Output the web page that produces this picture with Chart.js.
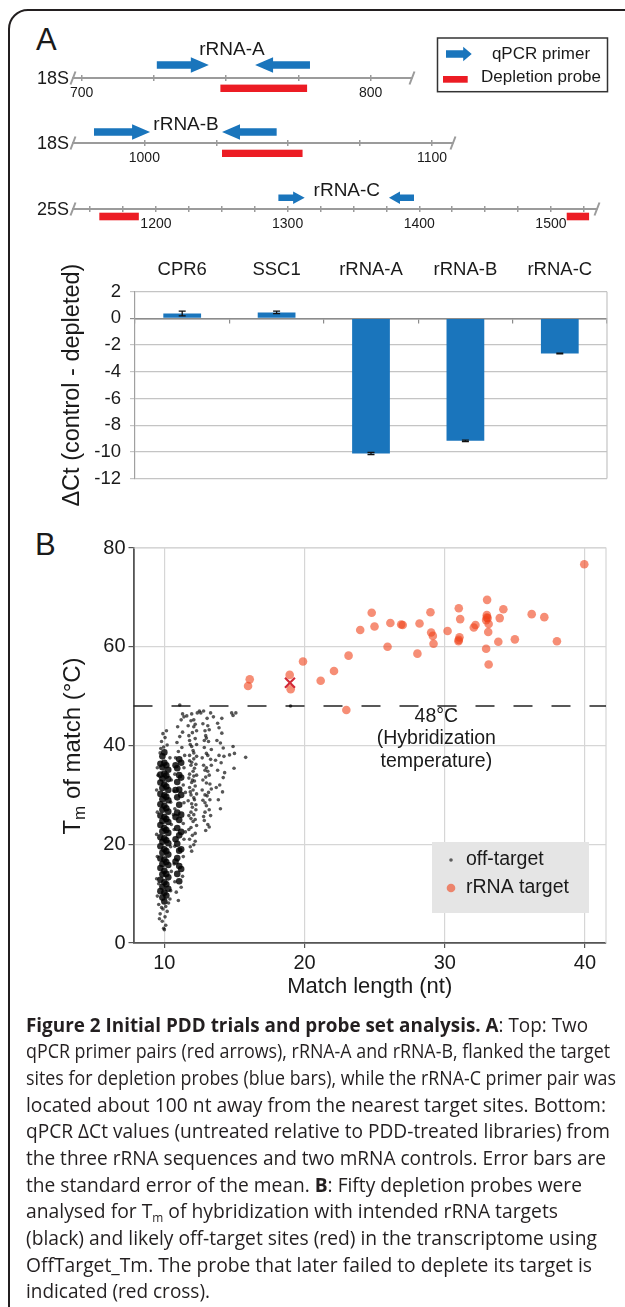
<!DOCTYPE html>
<html>
<head>
<meta charset="utf-8">
<title>Figure 2</title>
<script src="https://cdn.jsdelivr.net/npm/chart.js@4.4.1/dist/chart.umd.min.js"></script>
<style>
  html, body { margin: 0; padding: 0; background: #fff; }
  body { width: 625px; height: 1307px; position: relative; overflow: hidden; font-family: 'Liberation Sans', Arial, sans-serif; color: #1a1a1a; }
  #frame { position: absolute; left: 8px; top: 9px; width: 720px; height: 1400px; border: 2px solid #231f20; border-radius: 20px; }
  canvas { position: absolute; left: 0; }
  .panel { position: absolute; font-size: 31px; line-height: 1; }
  .cap { position: absolute; left: 25.5px; white-space: nowrap; font-family: 'Open Sans', sans-serif; font-size: 19.5px; line-height: 1; color: #231f20; transform-origin: 0 50%; }
  .cap sub { font-size: 12px; vertical-align: baseline; position: relative; top: 4px; }
</style>
</head>
<body>
<div id="frame"></div>
<div class="panel" style="left:36px;top:24px">A</div>
<div class="panel" style="left:35px;top:529px">B</div>
<canvas id="row0" width="625" height="90" style="top:18px"></canvas>
<canvas id="row1" width="625" height="90" style="top:83px"></canvas>
<canvas id="row2" width="625" height="90" style="top:149px"></canvas>
<canvas id="bars" width="625" height="270" style="top:250px"></canvas>
<canvas id="scatter" width="625" height="485" style="top:520px"></canvas>

<div class="cap" style="top:1014.5px"><b>Figure 2 Initial PDD trials and probe set analysis. A</b>: Top: Two</div>
<div class="cap" style="top:1041.2px">qPCR primer pairs (red arrows), rRNA-A and rRNA-B, flanked the target</div>
<div class="cap" style="top:1067.8px">sites for depletion probes (blue bars), while the rRNA-C primer pair was</div>
<div class="cap" style="top:1094.5px">located about 100 nt away from the nearest target sites. Bottom:</div>
<div class="cap" style="top:1121.2px">qPCR ΔCt values (untreated relative to PDD-treated libraries) from</div>
<div class="cap" style="top:1147.8px">the three rRNA sequences and two mRNA controls. Error bars are</div>
<div class="cap" style="top:1174.5px">the standard error of the mean. <b>B</b>: Fifty depletion probes were</div>
<div class="cap" style="top:1201.2px">analysed for T<sub>m</sub> of hybridization with intended rRNA targets</div>
<div class="cap" style="top:1227.8px">(black) and likely off-target sites (red) in the transcriptome using</div>
<div class="cap" style="top:1254.5px">OffTarget_Tm. The probe that later failed to deplete its target is</div>
<div class="cap" style="top:1281.2px">indicated (red cross).</div>

<script>
// ---- panel A, top: primer / probe map on the rRNA sequences
const seqNames = ['18S', '18S', '25S'];
const ampliconNames = ['rRNA-A', 'rRNA-B', 'rRNA-C'];
const seqStart = [697, 975.2, 1137];
const seqEnd = [814.3, 1107.3, 1535];
const fwdPrimers = [[726, 744], [982.5, 1002], [1293, 1313]];
const revPrimers = [[760, 779], [1027, 1046], [1377, 1396]];
const probeSites = [[[748, 778]], [[1027, 1055]], [[1157, 1187], [1512, 1529]]];

// ---- panel A, bottom: qPCR delta Ct
const genes = ['CPR6', 'SSC1', 'rRNA-A', 'rRNA-B', 'rRNA-C'];
const deltaCt = [0.37, 0.45, -10.12, -9.18, -2.63];
const deltaCtErr = [0.18, 0.09, 0.08, 0.05, 0.03];

// ---- panel B: rRNA target matches (length nt, Tm C)
const rrnaLen = [15.97, 16.09, 18.94, 19.01, 19.89, 21.15, 22.1, 22.98, 23.14, 23.97,
  24.79, 24.99, 25.92, 26.12, 26.89, 27.0, 28.2, 28.05, 28.98, 29.03,
  29.15, 29.2, 30.2, 31.0, 31.05, 30.98, 31.1, 32.07, 32.19, 33.02,
  33.0, 33.06, 32.95, 33.13, 33.1, 32.95, 33.13, 33.92, 33.82, 34.18,
  35.0, 36.2, 37.1, 38.0, 39.95, 33.0, 31.0];
const rrnaTm = [52.05, 53.4, 54.3, 51.4, 57.0, 53.1, 55.1, 47.2, 58.2, 63.4,
  66.9, 64.1, 60.0, 64.8, 64.5, 64.4, 64.7, 58.6, 67.0, 62.9,
  62.2, 60.6, 63.2, 67.8, 61.9, 61.1, 65.6, 63.9, 64.4, 69.5,
  66.4, 65.8, 65.4, 64.6, 63.0, 59.6, 56.4, 65.8, 61.0, 67.6,
  61.5, 66.6, 66.0, 61.1, 76.7, 65.9, 61.4];
const failedProbe = [18.96, 52.7];

// off-target matches: dense cores of the 10 and 11 nt columns
const coreLen = [9.72, 9.86, 10.0, 10.14, 10.28, 10.8, 10.92, 11.06, 11.2];
const coreTm = [
  [10.5, 12.8, 15.2, 17.1, 19.6, 21.4, 23.9, 25.8, 28.1, 30.2, 32.5, 34.1, 36.3],
  [9.2, 11.4, 13.9, 16.0, 18.3, 20.5, 22.6, 24.7, 27.0, 29.1, 31.4, 33.3, 35.6, 37.8],
  [8.4, 10.2, 12.3, 14.6, 16.9, 19.0, 21.2, 23.3, 25.5, 27.8, 29.9, 32.1, 34.3, 36.5, 38.6],
  [9.6, 11.9, 14.0, 16.4, 18.6, 20.8, 22.9, 25.1, 27.3, 29.6, 31.7, 33.9, 36.0],
  [11.0, 13.3, 15.8, 17.9, 20.2, 22.3, 24.5, 26.6, 28.9, 31.0, 33.2, 35.1],
  [16.5, 21.0, 25.5, 31.0, 36.0],
  [14.0, 17.2, 20.1, 23.3, 26.4, 29.5, 32.6, 35.4],
  [12.5, 15.6, 18.7, 21.8, 24.9, 28.0, 31.1, 34.0, 37.2],
  [15.0, 19.0, 22.5, 26.0, 30.0, 33.5, 36.5]
];
// off-target matches: scattered points
const spreadOffTarget = [
  [9.95, 3.0], [10.1, 3.6], [9.85, 4.4], [10.05, 5.3], [9.7, 5.9], [10.2, 6.4], [9.9, 6.9], [10.1, 7.4], [9.6, 7.8], [10.3, 8.1],
  [9.5, 9.5], [10.45, 10.6], [9.45, 13.0], [10.5, 14.5], [9.5, 17.5], [10.45, 19.5], [9.45, 22.0], [10.5, 24.0], [9.5, 26.5], [10.45, 28.5],
  [9.45, 31.0], [10.5, 33.0], [9.5, 35.5], [10.4, 37.5], [9.7, 38.5], [9.95, 39.7], [10.2, 40.1], [9.8, 40.8], [10.05, 41.6], [9.9, 42.4],
  [10.15, 43.0], [9.75, 39.4], [9.55, 34.0], [9.6, 12.0], [10.4, 8.9], [9.8, 7.2], [9.65, 4.9], [10.0, 2.7],
  [11.0, 8.6], [10.85, 10.3], [11.2, 11.3], [10.75, 12.4], [11.3, 13.5], [10.7, 16.0], [11.35, 17.5], [10.75, 19.6], [11.4, 21.0], [10.7, 23.0],
  [11.35, 24.2], [10.75, 27.2], [11.4, 28.4], [10.7, 30.8], [11.35, 32.0], [10.75, 34.2], [11.4, 35.5], [10.8, 37.5], [11.0, 38.8], [11.25, 39.6],
  [10.9, 40.6], [11.1, 41.8], [11.3, 42.7], [10.95, 43.8], [11.2, 45.2], [11.4, 45.8], [11.1, 48.2], [10.65, 26.0], [11.45, 38.0], [11.5, 30.5], [11.5, 22.5],
  [11.95, 18.6], [12.1, 19.9], [11.8, 21.0], [12.2, 22.2], [11.9, 23.4], [12.05, 24.6], [11.75, 25.8], [12.25, 27.0], [11.95, 28.2], [12.1, 29.4],
  [11.85, 30.6], [12.2, 31.8], [12.0, 33.0], [11.8, 34.2], [12.15, 35.4], [11.95, 36.6], [12.3, 37.8], [12.05, 39.0], [11.85, 40.2], [12.2, 41.4],
  [12.0, 42.6], [11.7, 44.0], [12.1, 45.2], [11.95, 46.4], [12.35, 46.6], [12.0, 21.8], [11.9, 26.5], [12.15, 29.0], [11.95, 32.5], [12.3, 34.0],
  [11.8, 38.0], [12.1, 38.5], [12.0, 27.5], [12.2, 25.0], [11.9, 36.0], [12.3, 43.0], [11.75, 42.0], [12.05, 31.0], [11.9, 30.0], [12.1, 33.8],
  [11.85, 19.5], [12.2, 20.6], [11.75, 23.0], [12.3, 23.8], [11.9, 25.2], [12.1, 26.0], [11.7, 28.8], [12.25, 28.0], [11.8, 31.5], [12.3, 30.2],
  [12.15, 32.8], [11.75, 33.4], [12.05, 34.8], [12.25, 36.2], [11.8, 36.9], [12.1, 37.3], [11.95, 39.8], [12.3, 40.2], [11.8, 41.0], [12.1, 43.8],
  [11.9, 45.0], [12.2, 44.3],
  [12.95, 22.8], [13.1, 24.0], [12.8, 25.6], [13.2, 27.0], [12.9, 28.4], [13.05, 29.8], [12.7, 31.0], [13.25, 32.2], [12.95, 33.6], [13.1, 34.8],
  [12.8, 36.0], [13.3, 37.2], [13.0, 38.4], [12.85, 39.6], [13.15, 40.8], [12.95, 42.0], [13.2, 43.2], [12.75, 44.4], [13.05, 45.5], [12.6, 46.6],
  [13.3, 46.6], [12.9, 26.5], [13.15, 30.5], [13.0, 35.5], [12.85, 41.0],
  [13.2, 23.5], [12.85, 24.8], [13.3, 25.8], [13.0, 27.8], [12.75, 28.9], [13.25, 29.0], [12.9, 30.0], [13.35, 31.2], [13.0, 32.4], [12.75, 33.0],
  [13.2, 34.0], [12.9, 35.0], [13.35, 36.0], [12.7, 37.5], [13.1, 38.0], [13.35, 39.2], [12.9, 43.0], [13.1, 44.0], [12.8, 47.0], [13.0, 41.5],
  [14.0, 27.2], [13.85, 29.0], [14.15, 30.6], [13.95, 32.0], [14.2, 33.5], [13.8, 35.0], [14.05, 36.5], [13.9, 38.0], [14.2, 39.5], [13.75, 41.0],
  [14.1, 42.5], [13.9, 43.6], [13.7, 31.5], [14.3, 34.5], [13.65, 37.0], [14.25, 37.8], [14.0, 40.5], [13.8, 44.5], [14.1, 45.5],
  [14.8, 46.6], [15.1, 46.6], [14.9, 39.8], [14.65, 38.1], [15.0, 38.4], [15.8, 37.6], [14.97, 35.4], [13.5, 45.8], [12.5, 47.0], [11.6, 46.0],
  [11.3, 46.4], [19.0, 48.0], [14.9, 46.1]
];
const hybridTemp = 48;

const BLUE = '#1a75bc';
const RED = '#ec1c24';
const TXT = '#1a1a1a';
Chart.defaults.font.family = "'Liberation Sans', Arial, sans-serif";
Chart.defaults.color = TXT;

// vertical placement of each schematic row, relative to its sequence line
const rowStyle = [
  { right: 412, labelDy: -28, arrowDy: -13, probe: [6.6, 14], hh: 7.8, sh: 3.7, legend: true },
  { right: 453, labelDy: -18.5, arrowDy: -11, probe: [6.7, 14], hh: 7.8, sh: 3.7 },
  { right: 597, labelDy: -18, arrowDy: -11.3, probe: [3.7, 11.3], hh: 6.3, sh: 3.3 }
];

function drawArrow(ctx, x0, x1, y, dir, hh, sh, headMax) {
  const head = Math.min(headMax, (x1 - x0) * 0.44);
  ctx.beginPath();
  if (dir > 0) {
    ctx.moveTo(x0, y - sh); ctx.lineTo(x1 - head, y - sh); ctx.lineTo(x1 - head, y - hh);
    ctx.lineTo(x1, y); ctx.lineTo(x1 - head, y + hh); ctx.lineTo(x1 - head, y + sh); ctx.lineTo(x0, y + sh);
  } else {
    ctx.moveTo(x1, y - sh); ctx.lineTo(x0 + head, y - sh); ctx.lineTo(x0 + head, y - hh);
    ctx.lineTo(x0, y); ctx.lineTo(x0 + head, y + hh); ctx.lineTo(x0 + head, y + sh); ctx.lineTo(x1, y + sh);
  }
  ctx.closePath();
  ctx.fill();
}

const schematic = {
  id: 'schematic',
  afterDraw(chart, args, opts) {
    const i = opts.row, st = rowStyle[i];
    const ctx = chart.ctx, x = chart.scales.x;
    const y0 = chart.chartArea.bottom;
    ctx.save();
    // break marks at both ends of the sequence
    ctx.strokeStyle = '#9b9b9b'; ctx.lineWidth = 2;
    [x.left, x.right].forEach(px => {
      ctx.beginPath(); ctx.moveTo(px - 2.5, y0 + 6.5); ctx.lineTo(px + 2.5, y0 - 6.5); ctx.stroke();
    });
    ctx.fillStyle = TXT;
    ctx.font = "18px 'Liberation Sans'";
    ctx.textAlign = 'right'; ctx.textBaseline = 'middle';
    ctx.fillText(seqNames[i], x.left - 4, y0 + 1);
    // depletion probes
    ctx.fillStyle = RED;
    probeSites[i].forEach(p => {
      const a = x.getPixelForValue(p[0]), b = x.getPixelForValue(p[1]);
      ctx.fillRect(a, y0 + st.probe[0], b - a, st.probe[1] - st.probe[0]);
    });
    // primers
    ctx.fillStyle = BLUE;
    drawArrow(ctx, x.getPixelForValue(fwdPrimers[i][0]), x.getPixelForValue(fwdPrimers[i][1]), y0 + st.arrowDy, 1, st.hh, st.sh, 18);
    drawArrow(ctx, x.getPixelForValue(revPrimers[i][0]), x.getPixelForValue(revPrimers[i][1]), y0 + st.arrowDy, -1, st.hh, st.sh, 18);
    // amplicon name between the primers
    const mid = (fwdPrimers[i][1] + revPrimers[i][0]) / 2;
    ctx.fillStyle = TXT;
    ctx.font = "19px 'Liberation Sans'";
    ctx.textAlign = 'center';
    ctx.fillText(ampliconNames[i], x.getPixelForValue(mid), y0 + st.labelDy);
    if (st.legend) {
      const top = 20;
      ctx.strokeStyle = '#333'; ctx.lineWidth = 1.5;
      ctx.strokeRect(437.5, top, 170, 53.7);
      ctx.fillStyle = BLUE;
      drawArrow(ctx, 446, 471.7, top + 16, 1, 7.2, 3.8, 8.5);
      ctx.fillStyle = RED;
      ctx.fillRect(443, top + 38, 24.7, 6.7);
      ctx.fillStyle = TXT;
      ctx.font = "17px 'Liberation Sans'";
      ctx.textAlign = 'center';
      ctx.fillText('qPCR primer', 541, top + 16);
      ctx.fillText('Depletion probe', 541, top + 39);
    }
    ctx.restore();
  }
};

rowStyle.forEach((st, i) => {
  new Chart(document.getElementById('row' + i), {
    type: 'scatter',
    data: { datasets: [] },
    options: {
      responsive: false, animation: false, events: [],
      layout: { padding: { left: 73, right: 625 - st.right, top: 57, bottom: 0 } },
      plugins: { legend: { display: false }, tooltip: { enabled: false }, schematic: { row: i } },
      scales: {
        x: {
          type: 'linear', min: seqStart[i], max: seqEnd[i],
          afterBuildTicks: s => { s.ticks = s.ticks.filter(t => t.value % 25 === 0); },
          ticks: { stepSize: 25, includeBounds: false, autoSkip: false, maxRotation: 0, padding: 4, color: TXT, font: { size: 14 },
                   callback: v => (v % 100 === 0 ? String(v) : '') },
          grid: { color: '#9b9b9b', lineWidth: 1.5, tickLength: 3 },
          border: { color: '#9b9b9b', width: 2 },
          afterFit: s => { s.height = 30; }
        },
        y: { display: false, min: 0, max: 1 }
      }
    },
    plugins: [schematic]
  });
});

// ---- qPCR bar chart
const errorBars = {
  id: 'errorBars',
  afterDatasetsDraw(chart) {
    const ctx = chart.ctx, xs = chart.scales.x, ys = chart.scales.y, a = chart.chartArea;
    ctx.save();
    ctx.strokeStyle = '#c4c4c4'; ctx.lineWidth = 1.2;
    ctx.beginPath(); ctx.moveTo(a.right, a.top); ctx.lineTo(a.right, a.bottom); ctx.stroke();
    ctx.strokeStyle = '#111'; ctx.lineWidth = 1.3;
    deltaCt.forEach((v, i) => {
      const px = xs.getPixelForValue(i);
      const t = ys.getPixelForValue(v + deltaCtErr[i]), b = ys.getPixelForValue(v - deltaCtErr[i]);
      ctx.beginPath();
      ctx.moveTo(px, t); ctx.lineTo(px, b);
      ctx.moveTo(px - 3.5, t); ctx.lineTo(px + 3.5, t);
      ctx.moveTo(px - 3.5, b); ctx.lineTo(px + 3.5, b);
      ctx.stroke();
    });
    ctx.restore();
  }
};

new Chart(document.getElementById('bars'), {
  type: 'bar',
  data: {
    labels: genes,
    datasets: [{ data: deltaCt, backgroundColor: BLUE, barPercentage: 0.4, categoryPercentage: 1, xAxisID: 'x', yAxisID: 'y' }]
  },
  options: {
    responsive: false, animation: false, events: [],
    layout: { padding: { left: 54, right: 18, top: 0, bottom: 41.5 } },
    plugins: { legend: { display: false }, tooltip: { enabled: false } },
    scales: {
      x: {
        position: 'top',
        grid: { display: false }, border: { display: false },
        ticks: { color: TXT, font: { size: 18.5 }, padding: 3 },
        afterFit: s => { s.height = 41.7; }
      },
      xz: {
        type: 'category', position: { y: 0 },
        ticks: { display: false },
        grid: { drawOnChartArea: false, offset: true, tickLength: 4, color: '#8c8c8c', lineWidth: 1.2 },
        border: { color: '#8c8c8c', width: 1.5 }
      },
      y: {
        min: -12, max: 2,
        ticks: { stepSize: 2, color: TXT, font: { size: 18.5 }, padding: 9 },
        grid: { color: c => (c.tick && c.tick.value === 0 ? '#8c8c8c' : '#c4c4c4'), lineWidth: 1.2, tickLength: 5 },
        border: { color: '#a0a0a0', width: 1.2 },
        title: { display: true, text: 'ΔCt (control - depleted)', color: TXT, font: { size: 23.5 }, padding: { top: 4, bottom: 0 } },
        afterFit: s => { s.width = 81; }
      }
    }
  },
  plugins: [errorBars]
});

// ---- Tm scatter
const tmDecor = {
  id: 'tmDecor',
  beforeDatasetsDraw(chart) {
    const ctx = chart.ctx, a = chart.chartArea, ys = chart.scales.y;
    ctx.save();
    ctx.strokeStyle = '#d6d6d6'; ctx.lineWidth = 1.2;
    ctx.beginPath(); ctx.moveTo(a.left, a.top); ctx.lineTo(a.right, a.top); ctx.lineTo(a.right, a.bottom); ctx.stroke();
    const y48 = ys.getPixelForValue(hybridTemp);
    ctx.strokeStyle = '#222'; ctx.lineWidth = 1.5; ctx.setLineDash([19, 19]);
    ctx.beginPath(); ctx.moveTo(a.left, y48); ctx.lineTo(a.right, y48); ctx.stroke();
    ctx.restore();
  },
  afterDraw(chart) {
    const ctx = chart.ctx, xs = chart.scales.x, ys = chart.scales.y;
    ctx.save();
    // annotation under the threshold line
    const y48 = ys.getPixelForValue(hybridTemp), cx = xs.getPixelForValue(29.4);
    ctx.fillStyle = TXT; ctx.font = "19.5px 'Liberation Sans'";
    ctx.textAlign = 'center'; ctx.textBaseline = 'middle';
    ctx.fillText('48°C', cx, y48 + 11);
    ctx.fillText('(Hybridization', cx, y48 + 33);
    ctx.fillText('temperature)', cx, y48 + 56);
    // legend
    ctx.fillStyle = '#e5e5e5';
    ctx.fillRect(432, 322, 157, 71);
    ctx.fillStyle = 'rgba(0,0,0,0.6)';
    ctx.beginPath(); ctx.arc(451, 340, 1.8, 0, Math.PI * 2); ctx.fill();
    ctx.fillStyle = 'rgba(240,66,26,0.6)';
    ctx.beginPath(); ctx.arc(451, 368, 4.3, 0, Math.PI * 2); ctx.fill();
    ctx.fillStyle = TXT; ctx.font = "19.5px 'Liberation Sans'"; ctx.textAlign = 'left';
    ctx.fillText('off-target', 466, 340);
    ctx.fillText('rRNA target', 466, 368);
    // y title with subscript m
    ctx.translate(71, 226); ctx.rotate(-Math.PI / 2);
    ctx.textBaseline = 'alphabetic';
    ctx.font = "24px 'Liberation Sans'";
    const wT = ctx.measureText('T').width, rest = ' of match (°C)', wR = ctx.measureText(rest).width;
    ctx.font = "17px 'Liberation Sans'";
    const wM = ctx.measureText('m').width;
    let px = -(wT + wM + wR) / 2;
    ctx.font = "24px 'Liberation Sans'"; ctx.fillText('T', px, 8.6); px += wT;
    ctx.font = "17px 'Liberation Sans'"; ctx.fillText('m', px, 13.6); px += wM;
    ctx.font = "24px 'Liberation Sans'"; ctx.fillText(rest, px, 8.6);
    ctx.restore();
  }
};

const corePoints = [];
coreLen.forEach((len, i) => coreTm[i].forEach(tm => corePoints.push({ x: len, y: tm })));

new Chart(document.getElementById('scatter'), {
  type: 'scatter',
  data: {
    datasets: [
      { label: 'failed probe', data: [{ x: failedProbe[0], y: failedProbe[1] }], pointStyle: 'crossRot', pointRadius: 7, borderColor: '#d22a38', borderWidth: 2.2 },
      { label: 'rRNA target', data: rrnaLen.map((x, i) => ({ x, y: rrnaTm[i] })), pointRadius: 4.3, backgroundColor: 'rgba(240,66,26,0.6)', borderWidth: 0 },
      { label: 'off-target', data: corePoints, pointRadius: 3.3, backgroundColor: 'rgba(0,0,0,0.82)', borderWidth: 0 },
      { label: 'off-target', data: spreadOffTarget.map(p => ({ x: p[0], y: p[1] })), pointRadius: 1.8, backgroundColor: 'rgba(0,0,0,0.66)', borderWidth: 0 }
    ]
  },
  options: {
    responsive: false, animation: false, events: [],
    layout: { padding: { left: 0, right: 19, top: 28, bottom: 0 } },
    plugins: { legend: { display: false }, tooltip: { enabled: false } },
    scales: {
      x: {
        type: 'linear', min: 7.8, max: 41.5,
        afterBuildTicks: s => { s.ticks = s.ticks.filter(t => t.value % 10 === 0); },
        ticks: { stepSize: 10, includeBounds: false, autoSkip: false, maxRotation: 0, padding: 3, color: TXT, font: { size: 20 } },
        grid: { color: '#d6d6d6', lineWidth: 1.2, tickColor: '#555', tickLength: 5 },
        border: { color: '#555', width: 1.8 },
        title: { display: true, text: 'Match length (nt)', color: TXT, font: { size: 22 }, padding: { top: 0, bottom: 5 } },
        afterFit: s => { s.height = 62; }
      },
      y: {
        min: 0, max: 80,
        ticks: { stepSize: 20, padding: 3, color: TXT, font: { size: 20 } },
        grid: { color: '#d6d6d6', lineWidth: 1.2, tickColor: '#555', tickLength: 5 },
        border: { color: '#555', width: 1.8 },
        afterFit: s => { s.width = 133.5; }
      }
    }
  },
  plugins: [tmDecor]
});

// caption lines are squeezed to the measured line lengths of the figure
const capWidths = [562, 584, 590, 580, 584, 580, 556, 532, 571, 566, 184];
document.querySelectorAll('.cap').forEach((el, i) => {
  const w = el.getBoundingClientRect().width;
  el.style.transform = 'scaleX(' + (capWidths[i] / w).toFixed(4) + ')';
});
</script>
</body>
</html>
